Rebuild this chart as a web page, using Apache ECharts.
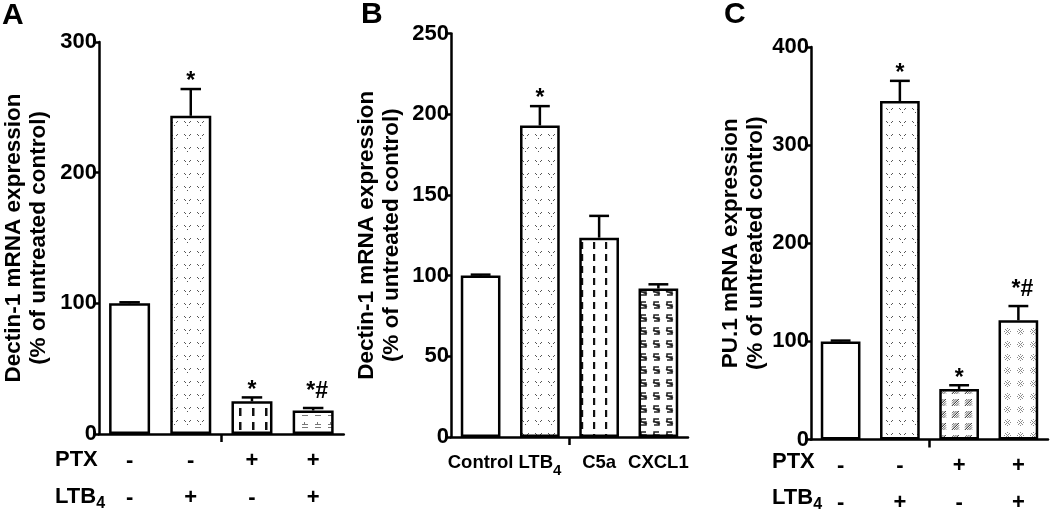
<!DOCTYPE html>
<html>
<head>
<meta charset="utf-8">
<script src="https://cdn.jsdelivr.net/npm/echarts@6/dist/echarts.min.js"></script>
<style>
html,body{margin:0;padding:0;background:#fff;}
#chart{width:1050px;height:514px;}
</style>
</head>
<body>
<div id="chart"></div>
<script>
// ---------------- data ----------------
const aCategories = ['Control', 'LTB4', 'PTX', 'PTX+LTB4'];
const aValues = [100, 243.5, 25, 18];
const aErrors = [0.8, 20.5, 3, 1.9];
const aSig = ['', '*', '*', '*#'];
const aTicks = [0, 100, 200, 300];

const bCategories = ['Control', 'LTB4', 'C5a', 'CXCL1'];
const bValues = [100, 193, 123.5, 92];
const bErrors = [0.6, 12, 13.5, 2.6];
const bSig = ['', '*', '', ''];
const bTicks = [0, 50, 100, 150, 200, 250];

const cCategories = ['Control', 'LTB4', 'PTX', 'PTX+LTB4'];
const cValues = [100, 345, 51.5, 121.5];
const cErrors = [0.8, 20.5, 3.8, 14.5];
const cSig = ['', '*', '*', '*#'];
const cTicks = [0, 100, 200, 300, 400];

const ptxSigns = ['-', '-', '+', '+'];
const ltb4Signs = ['-', '+', '-', '+'];

// ---------------- patterns ----------------
function makePattern(w, h, draw) {
  const c = document.createElement('canvas');
  c.width = w; c.height = h;
  const ctx = c.getContext('2d');
  ctx.fillStyle = '#fff';
  ctx.fillRect(0, 0, w, h);
  draw(ctx);
  return { image: c, repeat: 'repeat' };
}
const patterns = {
  white: '#ffffff',
  dots: makePattern(13, 13, ctx => {
    ctx.fillStyle = '#555';
    ctx.fillRect(2, 4, 1, 1); ctx.fillRect(3, 5, 1, 1);
    ctx.fillRect(8, 4, 1, 1); ctx.fillRect(7, 5, 1, 1);
    ctx.fillRect(5, 8, 1, 1);
  }),
  dashA: makePattern(13, 14, ctx => {
    ctx.fillStyle = '#111';
    ctx.fillRect(5, 2, 2.5, 8);
  }),
  eq: makePattern(13, 12, ctx => {
    ctx.fillStyle = '#777';
    ctx.fillRect(3, 4, 6, 1);
    ctx.fillRect(3, 7, 6, 1);
    ctx.fillRect(5, 2, 1, 2);
  }),
  dashB: makePattern(12, 12, ctx => {
    ctx.fillStyle = '#111';
    ctx.fillRect(5, 2, 2.2, 7);
  }),
  sMark: makePattern(13, 13, ctx => {
    ctx.strokeStyle = '#222';
    ctx.lineWidth = 1.5;
    ctx.beginPath();
    ctx.moveTo(9, 3); ctx.lineTo(4, 3); ctx.lineTo(4, 6); ctx.lineTo(9, 6);
    ctx.lineTo(9, 9); ctx.lineTo(4, 9);
    ctx.moveTo(3, 5); ctx.lineTo(10, 8);
    ctx.stroke();
  }),
  hatch: makePattern(13, 12, ctx => {
    ctx.strokeStyle = '#333';
    ctx.lineWidth = 0.8;
    ctx.beginPath();
    for (let k = 0; k < 4; k++) {
      ctx.moveTo(3 + k * 2.2, 3); ctx.lineTo(3, 3 + k * 2.2);
      ctx.moveTo(10, 3 + k * 2.2); ctx.lineTo(3 + k * 2.2, 10);
    }
    ctx.stroke();
  }),
  aster: makePattern(13, 13, ctx => {
    ctx.strokeStyle = '#8a8a8a';
    ctx.lineWidth = 1;
    ctx.beginPath();
    ctx.moveTo(4, 4); ctx.lineTo(9, 9);
    ctx.moveTo(9, 4); ctx.lineTo(4, 9);
    ctx.stroke();
    ctx.fillStyle = '#8a8a8a';
    ctx.fillRect(6, 3, 1, 1); ctx.fillRect(6, 9, 1, 1);
    ctx.fillRect(3, 6, 1, 1); ctx.fillRect(9, 6, 1, 1);
  })
};
const aFills = ['white', 'dots', 'dashA', 'eq'];
const bFills = ['white', 'dots', 'dashB', 'sMark'];
const cFills = ['white', 'dots', 'hatch', 'aster'];

// ---------------- helpers ----------------
const FONT = 'Arial, "Liberation Sans", Helvetica, sans-serif';
const LW = 2.5;

function barSeries(values, fills, idx) {
  return {
    type: 'bar',
    xAxisIndex: idx * 2, yAxisIndex: idx,
    barWidth: '67%',
    data: values.map((v, i) => ({
      value: v,
      itemStyle: { color: patterns[fills[i]], borderColor: '#000', borderWidth: LW }
    })),
    z: 2,
    silent: true
  };
}

function errorSeries(values, errors, sig, idx) {
  return {
    type: 'custom',
    xAxisIndex: idx * 2, yAxisIndex: idx,
    data: values.map((v, i) => [i, v, errors[i]]),
    encode: { x: 0, y: 1 },
    z: 5,
    silent: true,
    renderItem: function (params, api) {
      const i = api.value(0);
      const v = api.value(1);
      const e = api.value(2);
      const base = api.coord([i, v]);
      const top = api.coord([i, v + e]);
      const bw = api.size([1, 0])[0] * 0.67;
      const half = bw / 4;
      const lab = sig[params.dataIndex];
      const children = [
        { type: 'line', shape: { x1: base[0], y1: base[1], x2: top[0], y2: top[1] },
          style: { stroke: '#000', lineWidth: LW } },
        { type: 'line', shape: { x1: top[0] - half, y1: top[1], x2: top[0] + half, y2: top[1] },
          style: { stroke: '#000', lineWidth: LW } }
      ];
      if (lab) {
        const off = lab.indexOf('#') >= 0 ? 16 : 7;
        children.push({
          type: 'text', x: top[0] + (lab.length > 1 ? 4 : 0), y: top[1] - off,
          style: { text: lab, fill: '#000', font: 'bold 23px ' + FONT, align: 'center', verticalAlign: 'middle' }
        });
      }
      return { type: 'group', children: children };
    }
  };
}

function yAxisCfg(idx, ticks, name, nameGap) {
  return {
    type: 'value', gridIndex: idx,
    min: ticks[0], max: ticks[ticks.length - 1],
    interval: ticks[1] - ticks[0],
    axisLine: { show: true, lineStyle: { color: '#000', width: LW } },
    axisTick: { show: true, length: 6, lineStyle: { color: '#000', width: LW } },
    axisLabel: { color: '#000', fontSize: 22, fontWeight: 'bold', fontFamily: FONT, margin: 2 },
    splitLine: { show: false },
    name: name, nameLocation: 'middle', nameRotate: 90, nameGap: nameGap,
    nameTextStyle: { color: '#000', fontSize: 22.5, fontWeight: 'bold', fontFamily: FONT, lineHeight: 25 }
  };
}

function xCatAxis(idx, cats, label) {
  return {
    type: 'category', gridIndex: idx, data: cats, position: 'bottom',
    axisLine: { show: true, lineStyle: { color: '#000', width: LW } },
    axisTick: { show: false },
    axisLabel: label,
    splitLine: { show: false }
  };
}
function xTickAxis(idx, n) {
  return {
    type: 'value', gridIndex: idx, min: 0, max: n, position: 'bottom',
    axisLine: { show: false },
    axisTick: { show: true, customValues: [n / 2], length: 8, lineStyle: { color: '#000', width: LW } },
    axisLabel: { show: false },
    splitLine: { show: false }
  };
}

const signLabel = {
  interval: 0, margin: 8, color: '#000',
  formatter: (val, i) => '{s|' + ptxSigns[i] + '}\n{s|' + ltb4Signs[i] + '}',
  rich: { s: { fontSize: 22, fontWeight: 'bold', fontFamily: FONT, lineHeight: 37, color: '#000' } }
};
const bLabel = {
  interval: 0, margin: 11, color: '#000',
  formatter: (val) => val === 'LTB4' ? '{m|LTB}{sub|4}' : '{m|' + val + '}',
  rich: {
    m: { fontSize: 18.5, fontWeight: 'bold', fontFamily: FONT, lineHeight: 30, color: '#000', verticalAlign: 'middle' },
    sub: { fontSize: 15, fontWeight: 'bold', fontFamily: FONT, lineHeight: 15, color: '#000', verticalAlign: 'bottom' }
  }
};

function txt(x, y, text, size, rich) {
  const o = { type: 'text', x: x, y: y, silent: true,
    style: { text: text, fill: '#000', font: 'bold ' + size + 'px ' + FONT, align: 'left', verticalAlign: 'middle' } };
  if (rich) o.style.rich = rich;
  return o;
}
const ltbRich = {
  m: { fontSize: 22, fontWeight: 'bold', fontFamily: FONT, lineHeight: 30, verticalAlign: 'middle', fill: '#000' },
  sub: { fontSize: 16, fontWeight: 'bold', fontFamily: FONT, lineHeight: 16, verticalAlign: 'bottom', fill: '#000' }
};

const option = {
  animation: false,
  backgroundColor: '#fff',
  grid: [
    { left: 93.75, top: 42, width: 250, height: 392 },
    { left: 451, top: 33.5, width: 237, height: 403.5 },
    { left: 811, top: 47, width: 237, height: 395 }
  ],
  xAxis: [
    xCatAxis(0, aCategories, signLabel), xTickAxis(0, 4),
    xCatAxis(1, bCategories, bLabel), xTickAxis(1, 4),
    xCatAxis(2, cCategories, signLabel), xTickAxis(2, 4)
  ],
  yAxis: [
    yAxisCfg(0, aTicks, 'Dectin-1 mRNA expression\n(% of untreated control)', 48),
    yAxisCfg(1, bTicks, 'Dectin-1 mRNA expression\n(% of untreated control)', 47),
    yAxisCfg(2, cTicks, 'PU.1 mRNA expression\n(% of untreated control)', 41)
  ],
  series: [
    barSeries(aValues, aFills, 0), errorSeries(aValues, aErrors, aSig, 0),
    barSeries(bValues, bFills, 1), errorSeries(bValues, bErrors, bSig, 1),
    barSeries(cValues, cFills, 2), errorSeries(cValues, cErrors, cSig, 2)
  ],
  graphic: [
    txt(2, 16, 'A', 30), txt(361, 15, 'B', 30), txt(724, 15, 'C', 30),
    txt(55, 460, 'PTX', 22), txt(55, 497, '{m|LTB}{sub|4}', 22, ltbRich),
    txt(772, 462, 'PTX', 22), txt(772, 498, '{m|LTB}{sub|4}', 22, ltbRich)
  ]
};

const chart = echarts.init(document.getElementById('chart'), null, { renderer: 'canvas' });
chart.setOption(option);
</script>
</body>
</html>
